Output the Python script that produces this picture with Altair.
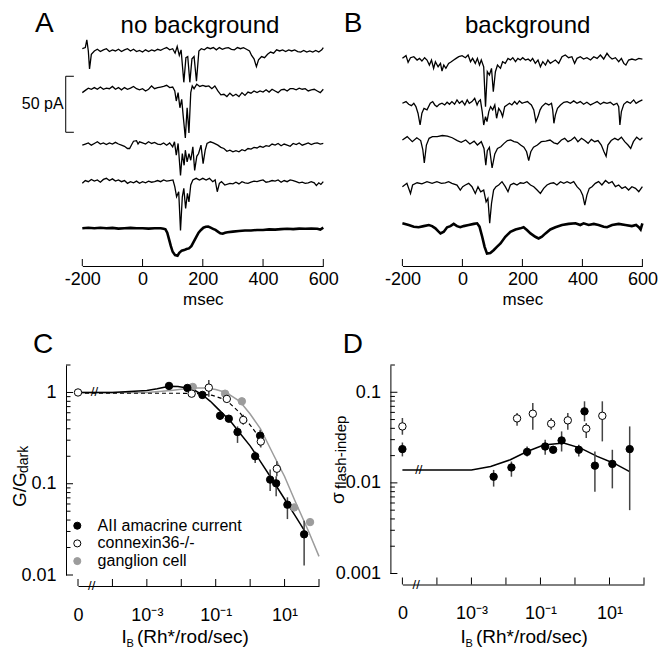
import altair as alt
import pandas as pd

FONT = "Liberation Sans"

# ---------------- Panel A: no background (time ms, current pA) ----------------
A1 = [(-200,2),(-190,3),(-185,10),(-180,0),(-176,-16),(-170,-3),(-160,0),(-150,1.5),(-140,-0.5),(-130,1),(-120,2),(-110,-0.5),(-100,1),(-90,0),(-80,1.5),(-70,-0.5),(-60,1),(-50,2),(-40,0),(-30,1.5),(-20,-0.5),(-10,0.5),(0,-1),(10,1),(20,-0.5),(30,1),(40,0),(50,1.5),(60,0.5),(70,2),(80,3),(90,1),(100,2),(108,-2),(115,4),(122,-4),(128,1),(137,-28),(144,-6),(150,-5),(157,-28),(164,-7),(171,-5),(179,-27),(187,0),(195,2),(205,1),(215,3),(225,2),(235,3),(245,1),(255,3),(265,1.5),(275,2.5),(285,3),(295,1.5),(305,1),(315,3),(325,2),(335,3),(345,1.5),(355,0),(362,-4),(370,-7),(378,-14),(385,-8),(395,-5),(405,-6),(415,-3),(425,-1),(435,-2),(445,1),(455,0),(465,1),(475,-0.5),(485,1),(495,0),(505,1),(515,-0.5),(525,-1),(535,0.5),(545,-1),(555,0),(565,-1),(575,0.5),(585,-1),(595,1),(600,3)]
A2 = [(-200,-3),(-190,-1),(-180,1),(-170,0),(-160,1.5),(-150,0),(-140,2),(-130,0),(-120,1),(-110,0.5),(-100,2.5),(-90,0),(-80,1.5),(-70,-0.5),(-60,1.5),(-50,0),(-40,1),(-30,2.5),(-20,0.5),(-10,-0.5),(0,0.5),(10,-1.5),(20,0),(30,3),(40,0.5),(50,1.5),(60,2),(70,2.5),(80,3.5),(90,1.5),(100,2),(107,-1.5),(112,-10.5),(118,-3),(124,-16.5),(130,-9),(135,-24),(142,-43.5),(148,-16.5),(154,-39),(160,-3),(165,3),(171,0.5),(180,4.5),(190,2.5),(200,3.5),(210,2.5),(220,3),(230,0.5),(240,3),(250,-1.5),(260,-5),(270,-4.5),(280,-6.5),(290,-3.5),(300,-6),(310,-4.5),(320,-6.5),(330,-3),(340,-5.5),(350,-2.5),(360,-3.5),(370,-1.5),(380,-3),(390,-1.5),(400,-2.5),(410,-0.5),(420,-2.5),(430,0),(440,-1.5),(450,-3),(460,-0.5),(470,0),(480,-1.5),(490,0.5),(500,0.5),(510,-0.5),(520,1),(530,0),(540,0.5),(550,-1.5),(560,-0.5),(570,0),(580,-1.5),(590,-3),(600,0)]
A3 = [(-200,-1),(-190,0),(-180,1),(-170,-1),(-160,0.5),(-150,2),(-140,0),(-130,1),(-120,-0.5),(-110,1),(-100,0),(-90,1.5),(-80,0),(-70,-1),(-60,-2),(-50,-4),(-43,-4),(-35,0),(-30,2.5),(-20,3),(-15,0),(-10,2),(0,1),(10,0),(20,2),(30,0.5),(40,1.5),(50,0),(60,-0.5),(70,1),(80,-1),(90,1),(100,-2.5),(106,2),(112,-10),(118,0.5),(126,-28),(132,-8.5),(138,-19),(142,-5.5),(148,-16),(154,-8.5),(160,-14.5),(167,-2.5),(173,-23.5),(180,-11),(186,-8.5),(194,-1),(201,-17.5),(208,-5.5),(214,0.5),(225,2),(235,1),(250,-1),(260,-3),(270,-4),(280,-6.5),(290,-5.5),(300,-7),(310,-6),(320,-7),(330,-5),(340,-6),(350,-4),(360,-4.5),(370,-3),(380,-3.5),(390,-2),(400,-3),(410,-1.5),(420,-2),(430,0),(440,-1),(450,0.5),(460,-1.5),(470,0),(480,-1),(490,-2),(500,0.5),(510,-0.5),(520,1),(530,-1),(540,0),(550,1),(560,-0.5),(570,0.5),(580,1),(590,0),(600,0.5)]
A4 = [(-200,-1.5),(-190,1),(-180,0),(-170,2),(-160,0.5),(-150,1.5),(-140,-0.5),(-130,2),(-120,3),(-110,1),(-100,2.5),(-90,0.5),(-80,1.5),(-70,0),(-60,1),(-50,-1.5),(-40,0),(-30,-1),(-20,0.5),(-10,-1.5),(0,0),(10,-1),(20,0.5),(30,-0.5),(40,0),(50,1),(60,0),(70,1.5),(80,0.5),(90,1),(101,1.5),(107,-4.5),(113,-13.5),(120,-9),(126,-43.5),(132,-13.5),(137,-6),(143,-24),(149,-10.5),(154,-18),(160,-3),(167,1.5),(178,3),(189,1.5),(200,3),(211,1.5),(222,3),(233,0),(241,1.5),(248,-9),(255,-1.5),(262,0),(273,-3),(290,-1.5),(300,-2),(310,-0.5),(320,-2),(330,0),(340,-1),(350,-1.5),(360,-0.5),(370,0.5),(380,0),(390,1),(400,1.5),(410,-0.5),(420,0),(430,1),(440,0.5),(450,1.5),(460,-0.5),(470,1),(480,0),(490,1.5),(500,1),(510,0),(520,-1),(530,-0.5),(540,-1.5),(550,-1),(560,0),(570,-1),(577,-3.5),(585,-1),(592,-2.5),(600,0)]
A5 = [(-200,0),(-180,0.5),(-160,0),(-140,0.5),(-120,0),(-100,0.3),(-80,-0.3),(-60,0),(-40,0.3),(-20,0),(0,0),(20,-0.3),(40,0),(60,0),(70,-0.5),(76,-1),(82,-4),(88,-10),(94,-16),(100,-21),(108,-24),(116,-24.5),(122,-22),(130,-20),(138,-19.5),(146,-18.5),(154,-18),(162,-16),(170,-12),(178,-8),(186,-4),(194,-1.5),(202,0.5),(210,1.3),(218,1.5),(226,0.5),(234,-0.5),(242,-1.5),(250,-3),(258,-4.5),(266,-4.8),(274,-4),(282,-3.5),(300,-3),(320,-2.5),(340,-2),(360,-2),(380,-1.5),(400,-1.5),(420,-1),(440,-1.2),(460,-0.8),(480,-0.5),(500,-0.8),(520,-0.3),(540,-0.5),(560,-0.2),(580,-0.5),(590,-1.2),(600,0.5)]

# ---------------- Panel B: background ----------------
B1 = [(-200,1.5),(-188,3.9),(-181,-2.1),(-173,2.1),(-162,3),(-151,0),(-143,1.5),(-135,-0.9),(-126,2.1),(-118,0),(-110,-4.5),(-103,0),(-96,-7.4),(-90,-1.5),(-81,-6),(-73,-3),(-68,-9.8),(-62,-4.5),(-55,-7.4),(-46,-3),(-37,-1.5),(-29,0),(-21,1.5),(-12,3),(-1,3.9),(10,2.1),(19,4.5),(27,-1.5),(34,1.5),(43,-3),(50,1.5),(57,-4.5),(63,0),(71,-6),(77,-41.7),(83,-10.4),(90,-13.4),(97,-7.4),(103,-28.3),(110,-10.4),(117,-4.5),(127,-7.4),(134,-1.5),(143,-3),(152,1.5),(160,0),(168,2.1),(177,-1.5),(185,1.5),(193,0),(201,2.1),(210,0),(219,0.9),(227,-0.9),(234,1.5),(243,-3),(252,0),(260,-6),(268,-1.5),(277,-4.5),(285,0),(293,-3),(301,-1.5),(310,0),(321,-3),(332,3),(343,4.5),(354,2.1),(365,3),(374,-3),(382,1.5),(393,3),(404,0.9),(415,2.1),(427,0),(438,3),(449,1.5),(460,4.5),(471,0.9),(482,6),(490,3),(499,0.9),(510,2.1),(521,-1.5),(530,1.5),(538,-3),(545,-4.5),(554,0),(565,0.9),(577,0),(588,1.5),(600,0.9)]
B2 = [(-200,0.9),(-188,2.4),(-179,0),(-170,-1.2),(-162,0.9),(-155,-2.1),(-148,-8),(-141,-18.5),(-135,-8),(-128,-3.6),(-118,-5),(-107,0.9),(-99,2.4),(-92,-0.6),(-85,-2.1),(-77,0),(-68,0.9),(-59,-0.6),(-51,1.8),(-43,0),(-35,2.4),(-26,0),(-18,3.9),(-10,0.9),(-1,3),(8,-0.6),(16,3.9),(23,0.9),(32,2.4),(41,5.4),(49,-0.6),(54,2.4),(60,3.9),(66,-6.5),(71,-18.5),(77,-11),(82,-15.5),(88,-6.5),(94,-2.1),(101,-5),(108,-0.6),(114,-12.5),(121,-3.6),(128,-6.5),(134,-11),(141,-2.1),(149,-0.6),(157,0.9),(165,-0.6),(174,2.4),(182,0),(190,3),(199,0.9),(208,1.8),(217,2.4),(223,0.9),(230,-0.6),(238,-5),(245,-15.5),(252,-11),(259,-5),(265,-2.1),(277,0.9),(288,-0.6),(297,0.9),(301,-5),(305,-17),(310,-9.5),(317,-3.6),(327,-0.6),(338,1.8),(349,2.4),(360,0.9),(371,3),(382,0.9),(393,2.4),(404,0),(415,1.8),(427,-0.6),(438,0.9),(449,2.4),(460,0),(471,1.8),(482,0.9),(493,1.8),(504,-0.6),(515,0.9),(521,-2.1),(525,-18.5),(530,-6.5),(538,0),(549,2.4),(560,0.9),(571,3.9),(579,0.9),(588,2.4),(600,3.9)]
B3 = [(-200,-1.5),(-184,1.5),(-167,-3),(-152,0.5),(-139,-2),(-132,-10),(-127,-22),(-120,-6),(-111,0),(-100,1.5),(-84,1.5),(-67,2.5),(-50,2),(-34,0.5),(-17,-2),(-4,-3.5),(11,-1.5),(25,-5),(39,-2.5),(50,-6),(63,-3),(72,-9),(78,-24),(83,-11),(90,-8),(99,-26.5),(108,-14),(117,-9),(128,-7.5),(139,-4.5),(150,-2),(161,-1.5),(172,-3),(183,-3.5),(194,-6),(205,-8),(214,-12),(221,-20),(228,-12),(237,-8),(250,-6),(263,-3),(278,-2.5),(292,-1.5),(305,-4),(317,-5),(330,-1.5),(341,0),(352,-3),(363,-1.5),(374,1),(385,-3),(397,0),(408,-2),(419,-4.5),(430,-1),(441,-3),(452,-2),(463,-6),(472,-12),(479,-16),(485,-6),(496,-2),(508,0),(519,-1.5),(530,1),(541,-3),(552,-6),(561,-9),(570,-3),(581,1),(592,-1.5),(600,0.5)]
B4 = [(-200,-1.5),(-185,1.5),(-173,-7.5),(-166,0),(-151,2),(-135,1),(-118,3),(-101,1.5),(-85,3),(-70,1.5),(-57,2),(-46,3),(-35,1.5),(-18,0),(-7,-4.5),(1,-1.5),(10,0),(21,1.5),(32,-1.5),(43,-7.5),(52,-1.5),(61,-6),(71,-4.5),(79,-15),(85,-12),(91,-34),(97,-16.5),(104,-4.5),(112,-1.5),(121,0),(132,3),(143,-1.5),(152,-6),(160,0),(171,1.5),(182,0),(193,2),(204,1.5),(215,3),(227,0),(238,-1.5),(249,-4.5),(260,-7.5),(271,-3),(282,0),(293,1.5),(304,2),(315,0),(327,3),(338,1.5),(349,3),(360,1.5),(371,3),(382,-1.5),(393,-4.5),(401,-9),(408,-18),(415,-9),(423,-3),(432,-1.5),(443,1.5),(454,3),(465,0),(477,4),(488,1.5),(499,3),(510,-1.5),(521,0),(532,-3),(543,-1.5),(554,-4.5),(565,-1.5),(577,-3),(588,-6),(600,-1.5)]
B5 = [(-200,1.5),(-179,0),(-162,-1.5),(-146,-2),(-129,-1),(-112,0),(-101,-1),(-90,-3),(-81,-5.5),(-73,-7.5),(-62,-6),(-51,-2),(-40,-1),(-29,1),(-18,-1),(-7,-2),(4,-1),(21,0),(38,1),(49,1.5),(57,-1.5),(66,-10.5),(74,-19.5),(82,-25.5),(93,-25),(104,-22.5),(115,-19.5),(127,-16.5),(143,-10.5),(160,-6),(177,-4),(193,-3),(204,-2),(215,-4.5),(227,-7.5),(243,-10.5),(254,-12),(265,-10.5),(277,-7.5),(293,-4),(310,-2),(332,0),(354,1),(377,1.5),(393,0),(404,1.5),(421,0),(438,1),(454,0),(471,-1.5),(482,-2),(499,0),(521,1),(543,0),(565,-1),(579,0),(588,-2),(594,-4),(600,1.5)]

T_TICKS = [-200, 0, 200, 400, 600]

# ---------------- Panel C: G/Gdark vs background ----------------
C_SERIES = ["AII amacrine current", "connexin36-/-", "ganglion cell"]
C_AII_I = [0.0044, 0.015, 0.041, 0.134, 0.24, 0.43, 1.40, 1.95, 3.81, 5.7, 12.1, 37]
C_AII_G = [1.18, 1.12, 0.94, 0.556, 0.516, 0.369, 0.20, 0.336, 0.111, 0.101, 0.059, 0.0279]
C_AII_LO = [1.18, 1.12, 0.90, 0.503, 0.50, 0.28, 0.169, 0.257, 0.083, 0.073, 0.041, 0.0127]
C_AII_HI = [1.18, 1.12, 0.98, 0.615, 0.53, 0.425, 0.226, 0.391, 0.143, 0.121, 0.071, 0.0394]
C_CX_I = [0, 0.020, 0.063, 0.21, 0.63, 2.04, 5.97]
C_CX_G = [1.0, 0.97, 1.13, 0.85, 0.50, 0.29, 0.146]
C_CX_LO = [1.0, 0.95, 0.90, 0.80, 0.444, 0.249, 0.121]
C_CX_HI = [1.0, 1.0, 1.37, 0.90, 0.57, 0.363, 0.176]
C_GC_I = [0.0216, 0.187, 0.574, 19, 55]
C_GC_G = [1.15, 0.97, 0.80, 0.055, 0.038]
FIT_AII_I = [0, 1e-4, 1e-3, 0.002, 0.0044, 0.008, 0.015, 0.025, 0.04, 0.07, 0.1, 0.2, 0.3, 0.5, 1, 2, 4, 10, 20, 37]
FIT_AII_G = [1.0, 1.0, 1.05, 1.1, 1.17, 1.16, 1.12, 1.05, 0.95, 0.80, 0.70, 0.54, 0.46, 0.36, 0.26, 0.175, 0.117, 0.068, 0.045, 0.031]
FIT_GC_I = [0, 1e-4, 1e-3, 0.005, 0.02, 0.05, 0.1, 0.2, 0.5, 1, 2, 5, 10, 20, 50, 100]
FIT_GC_G = [1.0, 1.0, 1.0, 1.05, 1.12, 1.12, 1.08, 1.0, 0.80, 0.58, 0.40, 0.20, 0.12, 0.065, 0.03, 0.016]
FIT_CX_I = [0, 1e-4, 1e-3, 0.01, 0.03, 0.08, 0.2, 0.5, 1, 2]
FIT_CX_G = [0.98, 0.98, 0.98, 0.98, 0.97, 0.93, 0.83, 0.60, 0.44, 0.31]

# ---------------- Panel D: sigma flash-indep vs background ----------------
D_AII_I = [0, 0.0044, 0.0144, 0.041, 0.137, 0.233, 0.41, 1.29, 1.89, 3.78, 12.1, 38.5]
D_AII_S = [0.0236, 0.0117, 0.0148, 0.022, 0.0252, 0.0232, 0.0294, 0.0232, 0.0616, 0.0155, 0.0162, 0.0236]
D_AII_LO = [0.0196, 0.0091, 0.0117, 0.0196, 0.0204, 0.0232, 0.0222, 0.0196, 0.0478, 0.008, 0.0087, 0.005]
D_AII_HI = [0.0279, 0.0139, 0.0172, 0.0252, 0.0299, 0.0232, 0.037, 0.0264, 0.0795, 0.0222, 0.0232, 0.042]
D_CX_I = [0, 0.021, 0.060, 0.204, 0.62, 2.12, 6.2]
D_CX_S = [0.042, 0.0515, 0.058, 0.045, 0.049, 0.0397, 0.055]
D_CX_LO = [0.034, 0.0427, 0.0386, 0.0386, 0.0386, 0.0313, 0.0287]
D_CX_HI = [0.052, 0.059, 0.076, 0.052, 0.059, 0.0458, 0.0795]
FIT_D_I = [0, 1e-4, 1e-3, 0.0036, 0.0134, 0.041, 0.124, 0.47, 1.45, 4.4, 13.4, 38.4]
FIT_D_S = [0.0139, 0.0139, 0.0139, 0.0152, 0.018, 0.0222, 0.0262, 0.0275, 0.0242, 0.0196, 0.0165, 0.0133]

I_TICKS = [1e-5, 1e-4, 1e-3, 1e-2, 1e-1, 1, 10, 100]

# ---------------- layout constants ----------------
HT = 228.0          # trace panel height (px)
PXPA = 1.12         # px per pA
HC = 210.0
HD = 208.5
ROW2_DY = HT + 99   # offset of bottom row from the layout origin
LBL = 18


def txt(s, x, y, size, **kw):
    return alt.Chart(pd.DataFrame({"s": [s]})).mark_text(
        font=FONT, fontSize=size, color="black", **kw
    ).encode(x=alt.value(x), y=alt.value(y), text="s:N")


def trace_panel(traces, mean_key, offsets, W, rng, title, title_x, letter, letter_x, scalebar, anchor):
    rows = []
    for k, tr in traces.items():
        for t, v in tr:
            rows.append({"trace": k, "t": t, "pA": v, "y": v + offsets[k], "mean": k == mean_key})
    df = pd.DataFrame(rows)
    xs = alt.Scale(domain=[-200, 600], range=rng, nice=False, zero=False)
    ys = alt.Scale(domain=[0, HT / PXPA], nice=False, zero=False)
    xax = alt.Axis(values=T_TICKS, labelExpr="'' + datum.value", tickSize=0, labelPadding=4,
                   labelFontSize=LBL, title="msec", titleFontSize=17, titleFontWeight="normal",
                   titlePadding=3, grid=False, labelFlush=False)
    X = alt.X("t:Q", scale=xs, axis=xax)
    Y = alt.Y("y:Q", scale=ys, axis=None)
    base = alt.Chart(df)
    layers = [
        base.transform_filter("!datum.mean").mark_line(color="black", strokeWidth=1.3).encode(X, Y, detail="trace:N"),
        base.transform_filter("datum.mean").mark_line(color="black", strokeWidth=2.6).encode(X, Y),
        alt.Chart(pd.DataFrame({"t": T_TICKS})).mark_rule(color="black").encode(X, y=alt.value(HT), y2=alt.value(HT - 7)),
        txt(title, title_x, -5, 24, align="center", baseline="alphabetic"),
        txt(letter, letter_x, -6, 28, align="left", baseline="alphabetic"),
    ]
    if scalebar:
        lo, hi, tb = 119.4, 169.4, -255
        layers += [
            alt.Chart(pd.DataFrame({"t": [tb], "y": [lo], "y2": [hi]})).mark_rule(color="black").encode(X, Y, y2="y2:Q"),
            alt.Chart(pd.DataFrame({"t": [tb, tb], "t2": [-228, -228], "y": [lo, hi]})).mark_rule(color="black").encode(X, Y, x2="t2:Q"),
            alt.Chart(pd.DataFrame({"t": [-262], "y": [(lo + hi) / 2], "s": ["50 pA"]})).mark_text(
                font=FONT, fontSize=16, align="right", baseline="middle", color="black").encode(X, Y, text="s:N"),
        ]
    if anchor:
        layers.append(alt.Chart(pd.DataFrame({"a": [0]})).mark_rule(color="white", strokeWidth=1).encode(
            x=alt.value(-69.5), y=alt.value(-29.5), y2=alt.value(-28.5)))
    return alt.layer(*layers).properties(width=W, height=HT)


def log_panel(H, W, ydom, ylabels_expr, ymajor, yminor, fits, errs, points, letter, letter_x, extra):
    xs = alt.Scale(type="log", domain=[1e-5, 100], nice=False)
    ys = alt.Scale(type="log", domain=ydom, nice=False)
    xax = alt.Axis(values=[1e-5, 1e-3, 1e-1, 10], tickSize=0, offset=11, labelPadding=20, labelFontSize=LBL,
                   labelExpr="datum.value < 1e-4 ? '0' : datum.value < 1e-2 ? '10⁻³' : datum.value < 1 ? '10⁻¹' : '10¹'",
                   title=None, grid=False, labelFlush=False)
    yax = alt.Axis(values=ymajor, tickSize=0, offset=12, labelPadding=10, labelFontSize=LBL,
                   labelExpr=ylabels_expr, title=None, grid=False, labelFlush=False)
    X = alt.X("xp:Q", scale=xs, axis=xax)
    Y = alt.Y("v:Q", scale=ys, axis=yax)
    calc = {"xp": "datum.I == 0 ? 1e-5 : datum.I"}
    layers = []
    for (xi, yv, color, width, dash) in fits:
        m = alt.Chart(pd.DataFrame({"I": xi, "v": yv})).transform_calculate(**calc)
        kw = dict(color=color, strokeWidth=width)
        if dash:
            kw["strokeDash"] = dash
        layers.append(m.mark_line(**kw).encode(X, Y, order="xp:Q"))
    for (xi, lo, hi) in errs:
        layers.append(alt.Chart(pd.DataFrame({"I": xi, "v": lo, "hi": hi})).transform_calculate(**calc)
                      .mark_rule(color="#444", strokeWidth=1.5).encode(X, Y, y2="hi:Q"))
    layers += points(X, Y, calc)
    # inward ticks
    layers.append(alt.Chart(pd.DataFrame({"v": ymajor})).mark_rule(color="black").encode(
        Y, x=alt.value(-12), x2=alt.value(-5)))
    layers.append(alt.Chart(pd.DataFrame({"v": yminor})).mark_rule(color="black").encode(
        Y, x=alt.value(-12), x2=alt.value(-7.5)))
    layers.append(alt.Chart(pd.DataFrame({"xp": I_TICKS})).mark_rule(color="black").encode(
        X, y=alt.value(H + 11), y2=alt.value(H + 4)))
    # axis break marks
    layers.append(alt.Chart(pd.DataFrame({"xp": [2.5e-5], "s": ["//"]})).mark_text(
        font=FONT, fontSize=13, color="black", baseline="middle").encode(X, y=alt.value(H + 11), text="s:N"))
    layers.append(txt(letter, letter_x, -12, 28, align="left", baseline="alphabetic"))
    layers += extra(X, Y)
    return alt.layer(*layers).properties(width=W, height=H)


def minors(decs):
    out = []
    for d in decs:
        out += [k * d for k in range(2, 10)]
    return out


# ---- C points
def c_points(X, Y, calc):
    df = pd.DataFrame({
        "I": C_GC_I + C_AII_I + C_CX_I,
        "v": C_GC_G + C_AII_G + C_CX_G,
        "series": [C_SERIES[2]] * len(C_GC_I) + [C_SERIES[0]] * len(C_AII_I) + [C_SERIES[1]] * len(C_CX_I),
    })
    lg = alt.Legend(orient="none", legendX=-8.7, legendY=152.7 + ROW2_DY, title=None, labelFont=FONT,
                    labelFontSize=16, labelColor="black", symbolType="circle", symbolSize=50, labelOffset=12.3,
                    rowPadding=1.7, padding=0, symbolStrokeWidth=1)
    fill = alt.Fill("series:N", scale=alt.Scale(domain=C_SERIES, range=["black", "white", "#9c9c9c"]), legend=lg)
    stroke = alt.Stroke("series:N", scale=alt.Scale(domain=C_SERIES, range=["black", "black", "#9c9c9c"]), legend=lg)
    return [alt.Chart(df).transform_calculate(**calc).mark_point(
        shape="circle", filled=True, size=55, strokeWidth=1, opacity=1).encode(X, Y, fill=fill, stroke=stroke)]


def c_extra(X, Y):
    return [
        alt.Chart(pd.DataFrame({"xp": [3e-5], "v": [1.0], "s": ["//"]})).mark_text(
            font=FONT, fontSize=13, color="black", baseline="middle").encode(X, Y, text="s:N"),
        txt("G/G", -58, 142, 19, angle=270, align="left", baseline="middle"),
        txt("dark", -54, 108, 14, angle=270, align="left", baseline="middle"),
        txt("I", 43.5, 278, 19, align="left", baseline="alphabetic"),
        txt("B", 48.5, 282, 11, align="left", baseline="alphabetic"),
        txt("(Rh*/rod/sec)", 59, 278, 19, align="left", baseline="alphabetic"),
    ]


def d_points(X, Y, calc):
    blk = alt.Chart(pd.DataFrame({"I": D_AII_I, "v": D_AII_S})).transform_calculate(**calc).mark_point(
        shape="circle", filled=True, size=55, fill="black", stroke="black", strokeWidth=1, opacity=1).encode(X, Y)
    opn = alt.Chart(pd.DataFrame({"I": D_CX_I, "v": D_CX_S})).transform_calculate(**calc).mark_point(
        shape="circle", filled=True, size=55, fill="white", stroke="black", strokeWidth=1, opacity=1).encode(X, Y)
    return [blk, opn]


def d_extra(X, Y):
    return [
        alt.Chart(pd.DataFrame({"xp": [3e-5], "v": [0.0139], "s": ["//"]})).mark_text(
            font=FONT, fontSize=13, color="black", baseline="middle").encode(X, Y, text="s:N"),
        txt("σ", -64, 139, 19, angle=270, align="left", baseline="middle"),
        txt("flash-indep", -61, 124, 15, angle=270, align="left", baseline="middle"),
        txt("I", 58, 278, 19, align="left", baseline="alphabetic"),
        txt("B", 63, 282, 11, align="left", baseline="alphabetic"),
        txt("(Rh*/rod/sec)", 73.5, 278, 19, align="left", baseline="alphabetic"),
    ]


OFF_A = {"A1": 192.0, "A2": 157.8, "A3": 108.9, "A4": 75.3, "A5": 33.7}
OFF_B = {"B1": 183.9, "B2": 144.4, "B3": 114.0, "B4": 72.3, "B5": 36.6}

panelA = trace_panel({"A1": A1, "A2": A2, "A3": A3, "A4": A4, "A5": A5}, "A5", OFF_A, 245.3, [4.3, 245.3],
                     "no background", 122, "A", -43, True, True)
panelB = trace_panel({"B1": B1, "B2": B2, "B3": B3, "B4": B4, "B5": B5}, "B5", OFF_B, 240.0, [0, 240],
                     "background", 125.3, "B", -58.7, False, False)

panelC = log_panel(
    HC, 241.0, [0.01, 2], "datum.value > 0.5 ? '1' : datum.value > 0.05 ? '0.1' : '0.01'",
    [0.01, 0.1, 1], minors([0.01, 0.1]) + [2],
    [(FIT_GC_I, FIT_GC_G, "#9c9c9c", 1.5, None),
     (FIT_CX_I, FIT_CX_G, "black", 1.2, [4, 3]),
     (FIT_AII_I, FIT_AII_G, "black", 1.5, None)],
    [(C_AII_I, C_AII_LO, C_AII_HI), (C_CX_I, C_CX_LO, C_CX_HI)],
    c_points, "C", -45, c_extra)

panelD = log_panel(
    HD, 241.6, [0.001, 0.2], "datum.value > 0.05 ? '0.1' : datum.value > 0.005 ? '0.01' : '0.001'",
    [0.001, 0.01, 0.1], minors([0.001, 0.01]) + [0.2],
    [(FIT_D_I, FIT_D_S, "black", 1.5, None)],
    [(D_AII_I, D_AII_LO, D_AII_HI), (D_CX_I, D_CX_LO, D_CX_HI)],
    d_points, "D", -59.7, d_extra)

chart = alt.concat(
    panelA, panelB, panelC, panelD, columns=2,
    spacing={"row": 99, "column": 78.4}, bounds="flush", padding=0, background="white"
).configure_view(stroke=None).configure_axis(
    labelFont=FONT, titleFont=FONT, labelColor="black", titleColor="black",
    domainColor="black", domainWidth=1
)

chart.save("out.html", embed_options={"renderer": "svg", "actions": False})
